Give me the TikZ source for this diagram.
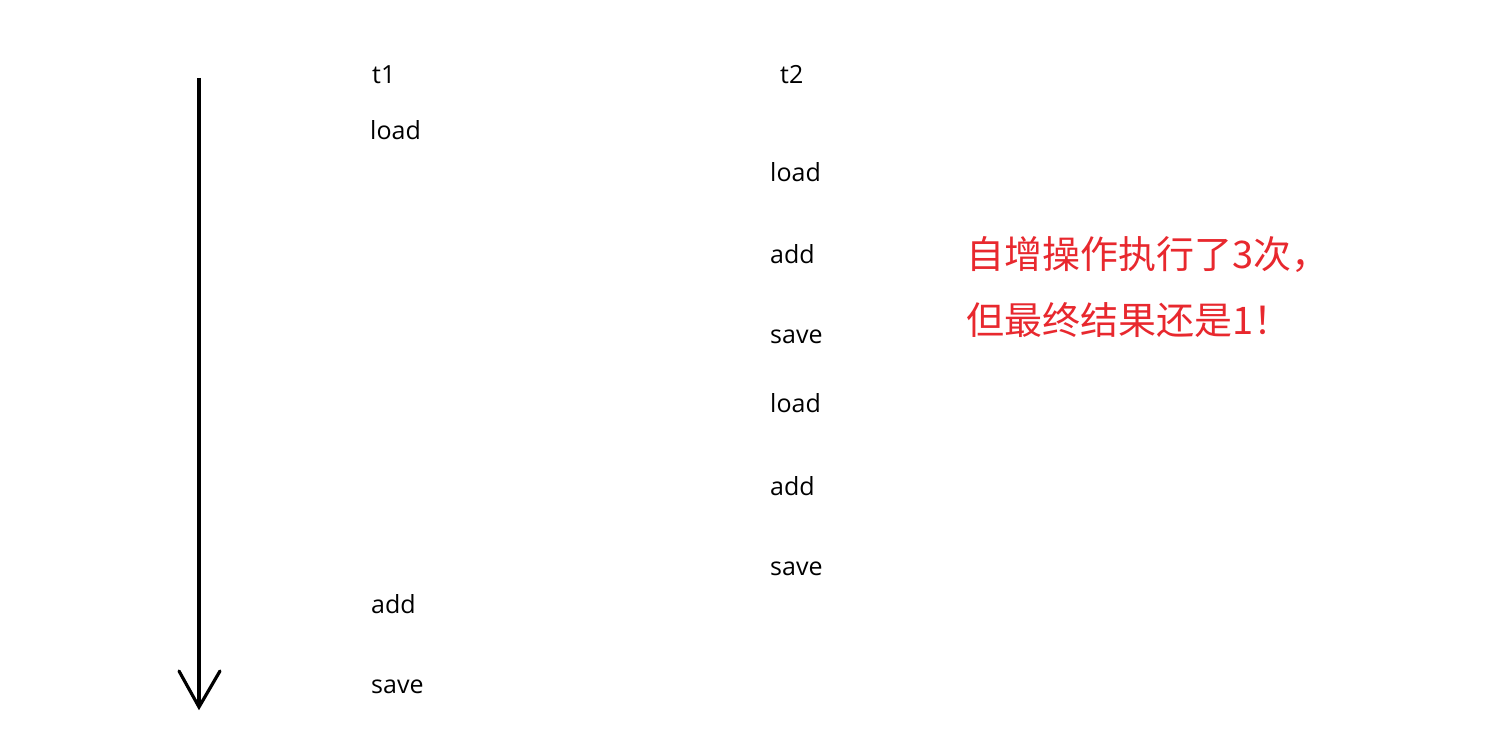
\documentclass[tikz,border=0pt]{standalone}
\usepackage{fontspec}
\setmainfont{Open Sans}
\newfontfamily\cjk{Noto Sans CJK SC}
\definecolor{notered}{RGB}{232,40,46}
\begin{document}
\begin{tikzpicture}[x=1pt,y=-1pt,
  op/.style={anchor=west,inner sep=0pt,font=\fontsize{25}{28}\selectfont,text=black},
  note/.style={anchor=west,inner sep=0pt,font=\cjk\fontsize{38}{44}\selectfont,text=notered},
  timeline/.style={line width=3.2pt,black}]
\useasboundingbox (0,0) rectangle (1486,754);
\fill[white] (0,0) rectangle (1486,754);
% time axis
\coordinate (top) at (199,78);
\coordinate (tip) at (199,707);
\coordinate (hl) at (179,671);
\coordinate (hr) at (220,671);
\draw[timeline] (top) -- (tip);
\draw[timeline,line cap=round,line join=miter] (hl) -- (tip) -- (hr);
% thread 1
\node[op] (t1) at (372,75) {t1};
\node[op] (l1) at (370,130) {load};
\node[op] (a1) at (371,604) {add};
\node[op] (s1) at (371,687) {save};
% thread 2
\node[op] (t2) at (780,75) {t2};
\node[op] (l2) at (770,172) {load};
\node[op] (a2) at (770,254) {add};
\node[op] (s2) at (770,337) {save};
\node[op] (l3) at (770,403) {load};
\node[op] (a3) at (770,486) {add};
\node[op] (s3) at (770,569) {save};
% note
\node[note] (n1) at (966,255) {自增操作执行了3次，};
\node[note] (n2) at (966,320) {但最终结果还是1！};
\end{tikzpicture}
\end{document}
